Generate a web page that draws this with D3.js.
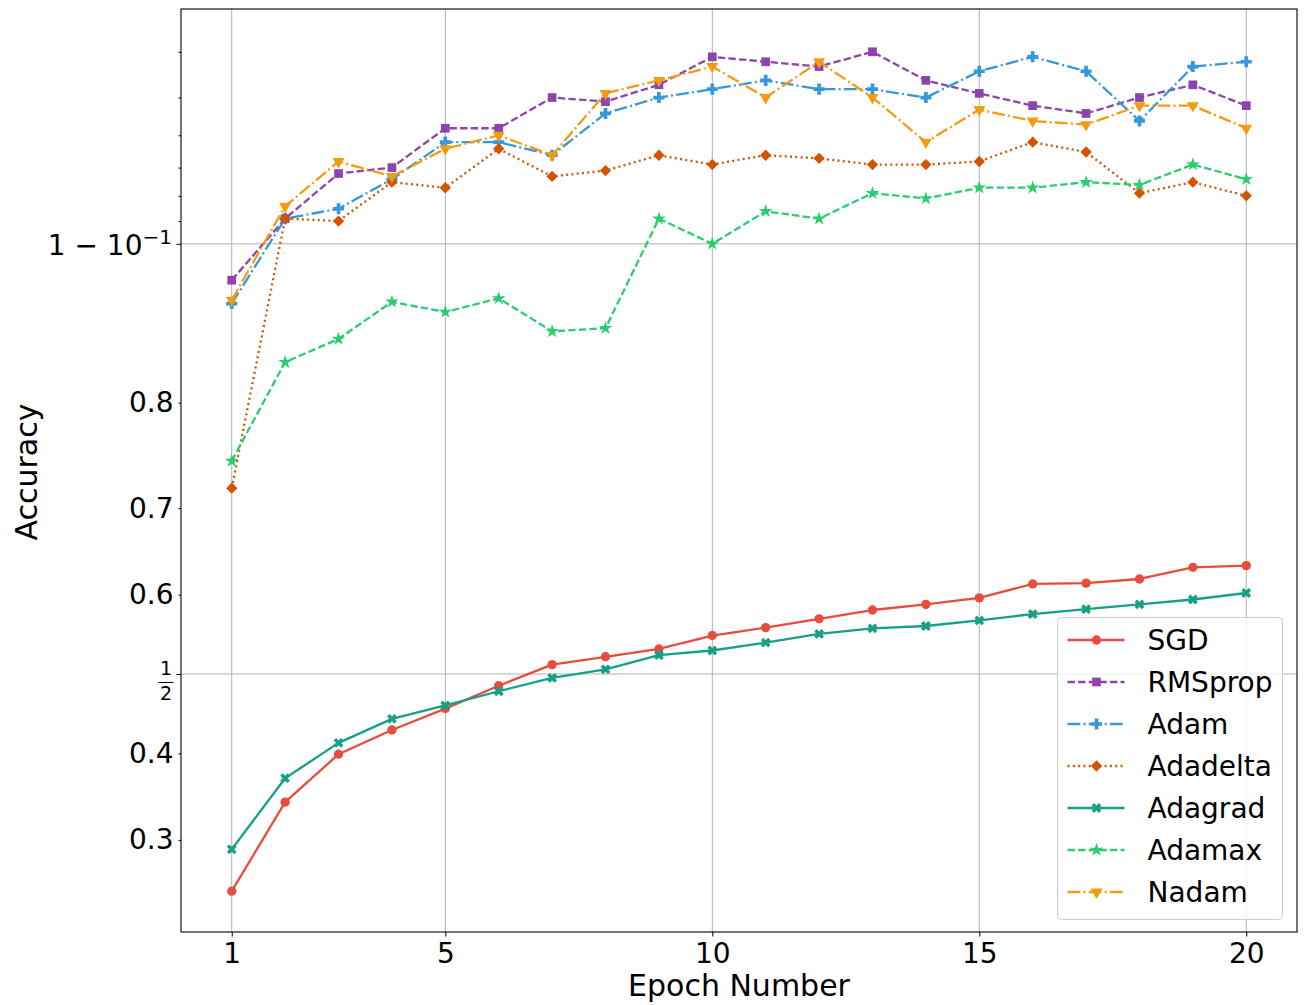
<!DOCTYPE html>
<html>
<head>
<meta charset="utf-8">
<script src="https://cdn.jsdelivr.net/npm/d3@7"></script>
<style>
  body { margin: 0; background: #fff; }
  text { font-family: "DejaVu Sans", sans-serif; fill: #000; }
</style>
</head>
<body>
<div id="chart"></div>
<script>
// epochs and accuracy per optimizer
const epochs = [1, 2, 3, 4, 5, 6, 7, 8, 9, 10, 11, 12, 13, 14, 15, 16, 17, 18, 19, 20];

const sgd      = [0.248, 0.342, 0.399, 0.429, 0.456, 0.485, 0.512, 0.522, 0.532, 0.549, 0.559, 0.570, 0.581, 0.588, 0.596, 0.613, 0.614, 0.619, 0.633, 0.635];
const rmsprop  = [0.882, 0.911, 0.928, 0.930, 0.942, 0.942, 0.950, 0.949, 0.953, 0.959, 0.958, 0.957, 0.960, 0.954, 0.951, 0.948, 0.946, 0.950, 0.953, 0.948];
const adam     = [0.869, 0.911, 0.915, 0.926, 0.938, 0.938, 0.934, 0.946, 0.950, 0.952, 0.954, 0.952, 0.952, 0.950, 0.956, 0.959, 0.956, 0.944, 0.957, 0.958];
const adadelta = [0.721, 0.911, 0.910, 0.925, 0.923, 0.936, 0.927, 0.929, 0.934, 0.931, 0.934, 0.933, 0.931, 0.931, 0.932, 0.938, 0.935, 0.921, 0.925, 0.920];
const adagrad  = [0.290, 0.370, 0.413, 0.443, 0.460, 0.478, 0.495, 0.506, 0.524, 0.530, 0.540, 0.551, 0.558, 0.561, 0.568, 0.576, 0.582, 0.588, 0.594, 0.602];
const adamax   = [0.748, 0.831, 0.847, 0.870, 0.864, 0.872, 0.852, 0.854, 0.911, 0.900, 0.914, 0.911, 0.921, 0.919, 0.923, 0.923, 0.925, 0.924, 0.931, 0.926];
const nadam    = [0.871, 0.916, 0.932, 0.927, 0.936, 0.940, 0.934, 0.951, 0.954, 0.957, 0.950, 0.958, 0.950, 0.938, 0.947, 0.944, 0.943, 0.948, 0.948, 0.942];

const xTicks = [1, 5, 10, 15, 20];
const yMajorTicks = [0.5, 0.9];
const yMinorLabelled = [0.3, 0.4, 0.6, 0.7, 0.8];
const yMinorTicks = [0.91, 0.92, 0.93, 0.94, 0.95, 0.96];

const margin = {top: 9, right: 8, bottom: 73, left: 181};
const width = 1305 - margin.left - margin.right;
const height = 1005 - margin.top - margin.bottom;

const root = d3.select('#chart')
    .append('svg')
    .attr('width', 1305)
    .attr('height', 1005);

const svg = root.append('g')
    .attr('transform', `translate(${margin.left},${margin.top})`);

// logit axis, like matplotlib's yscale('logit')
const logit = p => Math.log10(p / (1 - p));

const x = d3.scaleLinear()
    .domain([0.05, 20.95])
    .range([0, width]);

const yLogit = d3.scaleLinear()
    .domain([logit(0.2112), logit(0.9676)])
    .range([height, 0]);
const y = p => yLogit(logit(p));

// grid
svg.append('g').selectAll('line')
    .data(xTicks)
    .join('line')
    .attr('x1', d => x(d)).attr('x2', d => x(d))
    .attr('y1', 0).attr('y2', height)
    .attr('stroke', '#b0b0b0')
    .attr('stroke-width', 1);

svg.append('g').selectAll('line')
    .data(yMajorTicks)
    .join('line')
    .attr('x1', 0).attr('x2', width)
    .attr('y1', d => y(d)).attr('y2', d => y(d))
    .attr('stroke', '#b0b0b0')
    .attr('stroke-width', 1);

// axes
const xAxis = svg.append('g')
    .attr('transform', `translate(0,${height})`)
    .call(d3.axisBottom(x).tickValues(xTicks).tickSize(4.5).tickSizeOuter(0).tickPadding(6));

const yMajorAxis = svg.append('g')
    .call(d3.axisLeft(yLogit).tickValues(yMajorTicks.map(logit)).tickSize(4.5).tickSizeOuter(0).tickFormat(''));

const yMinorAxis = svg.append('g')
    .call(d3.axisLeft(yLogit).tickValues(yMinorLabelled.map(logit)).tickSize(2.5).tickSizeOuter(0).tickPadding(5)
        .tickFormat(d => d3.format('.1f')(1 / (1 + Math.pow(10, -d)))));

const yMinorAxis2 = svg.append('g')
    .call(d3.axisLeft(yLogit).tickValues(yMinorTicks.map(logit)).tickSize(2.5).tickSizeOuter(0).tickFormat(''));

[xAxis, yMajorAxis, yMinorAxis, yMinorAxis2].forEach(g => {
    g.select('.domain').remove();
    g.selectAll('.tick line').attr('stroke', '#000').attr('stroke-width', 1);
    g.selectAll('.tick text')
        .attr('font-family', '"DejaVu Sans", sans-serif')
        .attr('font-size', 28)
        .attr('fill', '#000');
});
xAxis.selectAll('.tick text').attr('dy', '0.72em');

// mathtext style labels for the major ticks
const nineLabel = svg.append('text')
    .attr('x', -9)
    .attr('y', y(0.9) + 11)
    .attr('text-anchor', 'end')
    .attr('font-size', 28);
nineLabel.append('tspan').text('1 \u2212 10');
nineLabel.append('tspan').attr('font-size', 20).attr('dy', -11).text('\u22121');

const half = svg.append('g')
    .attr('transform', `translate(-15,${y(0.5)})`);
half.append('text').attr('x', 0).attr('y', 1).attr('text-anchor', 'middle').attr('font-size', 19).text('1');
half.append('line').attr('x1', -7.5).attr('x2', 7.5).attr('y1', 8.5).attr('y2', 8.5)
    .attr('stroke', '#000').attr('stroke-width', 1);
half.append('text').attr('x', 0).attr('y', 26).attr('text-anchor', 'middle').attr('font-size', 19).text('2');

// axis labels
svg.append('text')
    .attr('x', width / 2)
    .attr('y', height + 64)
    .attr('text-anchor', 'middle')
    .attr('font-size', 30)
    .text('Epoch Number');

root.append('text')
    .attr('transform', 'rotate(-90)')
    .attr('x', -472)
    .attr('y', 37)
    .attr('text-anchor', 'middle')
    .attr('font-size', 30)
    .text('Accuracy');

// series
const series = [
    {name: 'SGD',      values: sgd,      color: '#e74c3c', dash: null,             symbol: d3.symbolCircle,   size: 68, rotate: 0},
    {name: 'RMSprop',  values: rmsprop,  color: '#8e44ad', dash: '7.4,3.2',        symbol: d3.symbolSquare,   size: 76, rotate: 0},
    {name: 'Adam',     values: adam,     color: '#3498db', dash: '12.8,3.2,2,3.2', symbol: d3.symbolCross,    size: 68, rotate: 0},
    {name: 'Adadelta', values: adadelta, color: '#d35400', dash: '2,3.3',          symbol: d3.symbolSquare,   size: 64, rotate: 45},
    {name: 'Adagrad',  values: adagrad,  color: '#16a085', dash: null,             symbol: d3.symbolCross,    size: 60, rotate: 45},
    {name: 'Adamax',   values: adamax,   color: '#2ecc71', dash: '7.4,3.2',        symbol: d3.symbolStar,     size: 58, rotate: 0},
    {name: 'Nadam',    values: nadam,    color: '#f39c12', dash: '12.8,3.2,2,3.2', symbol: d3.symbolTriangle, size: 62, rotate: 180}
];

const line = d3.line()
    .x((d, i) => x(epochs[i]))
    .y(d => y(d));

series.forEach(s => {
    svg.append('path')
        .datum(s.values)
        .attr('fill', 'none')
        .attr('stroke', s.color)
        .attr('stroke-width', 2.3)
        .attr('stroke-linejoin', 'round')
        .attr('stroke-dasharray', s.dash)
        .attr('d', line);

    svg.append('g').selectAll('path')
        .data(s.values)
        .join('path')
        .attr('d', d3.symbol(s.symbol, s.size))
        .attr('transform', (d, i) => `translate(${x(epochs[i])},${y(d)}) rotate(${s.rotate})`)
        .attr('fill', s.color);
});

// frame
svg.append('rect')
    .attr('width', width)
    .attr('height', height)
    .attr('fill', 'none')
    .attr('stroke', '#000')
    .attr('stroke-width', 1.1);

// legend
const legend = root.append('g')
    .attr('transform', 'translate(1057.5,617.5)');

legend.append('rect')
    .attr('width', 225)
    .attr('height', 302)
    .attr('rx', 4)
    .attr('fill', '#fff')
    .attr('fill-opacity', 0.8)
    .attr('stroke', '#cccccc')
    .attr('stroke-width', 1);

const rows = legend.selectAll('g.row')
    .data(series)
    .join('g')
    .attr('class', 'row')
    .attr('transform', (d, i) => `translate(0,${22.5 + i * 42})`);

rows.append('line')
    .attr('x1', 10).attr('x2', 67)
    .attr('stroke', d => d.color)
    .attr('stroke-width', 2.3)
    .attr('stroke-dasharray', d => d.dash);

rows.append('path')
    .attr('d', d => d3.symbol(d.symbol, d.size)())
    .attr('transform', d => `translate(39,0) rotate(${d.rotate})`)
    .attr('fill', d => d.color);

rows.append('text')
    .attr('x', 90)
    .attr('y', 10)
    .attr('font-size', 28)
    .text(d => d.name);
</script>
</body>
</html>
